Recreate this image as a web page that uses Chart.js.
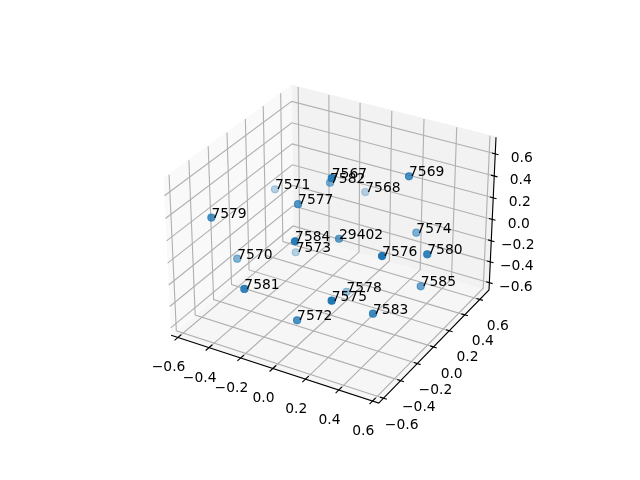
<!DOCTYPE html>
<html>
<head>
<meta charset="utf-8">
<script src="https://cdn.jsdelivr.net/npm/chart.js@4"></script>
<style>
html, body { margin: 0; padding: 0; background: #fff; }
canvas { display: block; }
</style>
</head>
<body>
<canvas id="chart" width="640" height="480"></canvas>
<script>
const pointIds = ["7567", "7568", "7569", "7570", "7571", "7572", "7573", "7574", "7575", "7576",
    "7577", "7578", "7579", "7580", "7581", "7582", "7583", "7584", "7585", "29402"];
const pointX = [0.115, -0.142, 0.363, -0.493, -0.573, 0.042, -0.397, 0.318, 0.305, 0.471,
    -0.141, -0.015, -0.484, 0.609, -0.168, -0.158, 0.411, 0.032, 0.472, 0.060];
const pointY = [-0.200, 0.687, 0.214, -0.178, 0.394, -0.458, 0.316, 0.416, -0.556, -0.310,
    -0.108, 0.219, -0.449, -0.054, -0.650, 0.289, -0.288, -0.453, 0.165, -0.014];
const pointZ = [0.764, -0.036, 0.615, -0.229, 0.006, -0.355, -0.471, -0.047, 0.017, 0.309,
    0.372, -0.614, 0.337, 0.205, -0.025, 0.302, -0.250, 0.348, -0.303, 0.081];

const tickValues = [-0.6, -0.4, -0.2, 0.0, 0.2, 0.4, 0.6];
const tickLabels = ["\u22120.6", "\u22120.4", "\u22120.2", "0.0", "0.2", "0.4", "0.6"];

// limits of the drawn box, in data units
const xBox = [-0.644, 0.636];
const yBox = [-0.6545, 0.7265];
const zBox = [-0.670, 0.748];

// view: elev 30, azim -60, dist 10
const boxW = 1.1905;
const boxH = 0.8929;
const dist = 10;

function project(x, y, z) {
    let dx = (x - (xBox[0] + xBox[1]) / 2) / (xBox[1] - xBox[0]) * boxW;
    let dy = (y - (yBox[0] + yBox[1]) / 2) / (yBox[1] - yBox[0]) * boxW;
    let dz = (z - (zBox[0] + zBox[1]) / 2) / (zBox[1] - zBox[0]) * boxH;
    let xv = 0.8660254 * dx + 0.5 * dy;
    let yv = -0.25 * dx + 0.4330127 * dy + 0.8660254 * dz;
    let depth = 0.4330127 * dx - 0.75 * dy + 0.5 * dz;
    return { x: xv / (dist - depth), y: yv / (dist - depth), depth: depth };
}

function line3d(pts, color, order) {
    return {
        type: "scatter",
        showLine: true,
        data: pts.map(p => project(p[0], p[1], p[2])),
        borderColor: color,
        borderWidth: 1.11,
        pointRadius: 0,
        tension: 0,
        fill: false,
        clip: false,
        order: order
    };
}

function pane3d(pts, color) {
    let ds = line3d(pts, color, 6);
    ds.backgroundColor = color;
    ds.fill = "shape";
    return ds;
}

let datasets = [];

datasets.push(pane3d([[xBox[0], yBox[0], zBox[0]], [xBox[0], yBox[1], zBox[0]], [xBox[0], yBox[1], zBox[1]], [xBox[0], yBox[0], zBox[1]]], "#f9f9f9"));
datasets.push(pane3d([[xBox[0], yBox[1], zBox[0]], [xBox[1], yBox[1], zBox[0]], [xBox[1], yBox[1], zBox[1]], [xBox[0], yBox[1], zBox[1]]], "#f2f2f2"));
datasets.push(pane3d([[xBox[0], yBox[0], zBox[0]], [xBox[1], yBox[0], zBox[0]], [xBox[1], yBox[1], zBox[0]], [xBox[0], yBox[1], zBox[0]]], "#f6f6f6"));

for (let t of tickValues) {
    datasets.push(line3d([[t, yBox[0], zBox[0]], [t, yBox[1], zBox[0]], [t, yBox[1], zBox[1]]], "#b0b0b0", 5));
    datasets.push(line3d([[xBox[1], t, zBox[0]], [xBox[0], t, zBox[0]], [xBox[0], t, zBox[1]]], "#b0b0b0", 5));
    datasets.push(line3d([[xBox[0], yBox[0], t], [xBox[0], yBox[1], t], [xBox[1], yBox[1], t]], "#b0b0b0", 5));
    datasets.push(line3d([[t, yBox[0] - 0.035, zBox[0]], [t, yBox[0] + 0.035, zBox[0]]], "#000", 4));
    datasets.push(line3d([[xBox[1] - 0.02, t, zBox[0]], [xBox[1] + 0.02, t, zBox[0]]], "#000", 4));
    datasets.push(line3d([[xBox[1] - 0.02, yBox[1], t], [xBox[1] + 0.02, yBox[1], t]], "#000", 4));
}

datasets.push(line3d([[xBox[0], yBox[0], zBox[0]], [xBox[1], yBox[0], zBox[0]], [xBox[1], yBox[1], zBox[0]], [xBox[1], yBox[1], zBox[1]]], "#000", 3));

// far points first, alpha follows depth like depthshade
let points = pointIds.map((id, i) => project(pointX[i], pointY[i], pointZ[i]));
let depths = points.map(p => p.depth);
let minDepth = Math.min(...depths);
let maxDepth = Math.max(...depths);
let sorted = points.slice().sort((a, b) => a.depth - b.depth);
let shades = sorted.map(p => {
    let a = 0.3 + 0.7 * (p.depth - minDepth) / (maxDepth - minDepth);
    return `rgba(31, 119, 180, ${a.toFixed(3)})`;
});

datasets.push({
    type: "scatter",
    data: sorted,
    pointRadius: 3.6,
    pointBorderWidth: 1.04,
    pointBackgroundColor: shades,
    pointBorderColor: shades,
    showLine: false,
    clip: false,
    order: 1
});

const textPlugin = {
    id: "textPlugin",
    afterDatasetsDraw(chart) {
        let ctx = chart.ctx;
        let sx = chart.scales.x;
        let sy = chart.scales.y;
        ctx.save();
        ctx.font = "13.89px 'DejaVu Sans'";
        ctx.fillStyle = "#000";

        ctx.textAlign = "center";
        ctx.textBaseline = "middle";
        tickValues.forEach((t, i) => {
            let a = project(t, yBox[0], zBox[0]);
            ctx.fillText(tickLabels[i], sx.getPixelForValue(a.x) - 9.3, sy.getPixelForValue(a.y) + 30.4);
            let b = project(xBox[1], t, zBox[0]);
            ctx.fillText(tickLabels[i], sx.getPixelForValue(b.x) + 18.2, sy.getPixelForValue(b.y) + 27);
            let c = project(xBox[1], yBox[1], t);
            ctx.fillText(tickLabels[i], sx.getPixelForValue(c.x) + 26.5, sy.getPixelForValue(c.y) + 4.5);
        });

        ctx.textAlign = "left";
        ctx.textBaseline = "alphabetic";
        pointIds.forEach((id, i) => {
            let p = points[i];
            ctx.fillText(id, sx.getPixelForValue(p.x), sy.getPixelForValue(p.y));
        });
        ctx.restore();
    }
};

new Chart(document.getElementById("chart").getContext("2d"), {
    type: "scatter",
    data: { datasets: datasets },
    options: {
        responsive: false,
        animation: false,
        layout: { padding: { left: 143.2, right: 127.2, top: 56.8, bottom: 53.6 } },
        plugins: { legend: { display: false }, tooltip: { enabled: false } },
        scales: {
            x: { type: "linear", min: -0.095, max: 0.09, display: false },
            y: { type: "linear", min: -0.095, max: 0.09, display: false }
        }
    },
    plugins: [textPlugin]
});
</script>
</body>
</html>
